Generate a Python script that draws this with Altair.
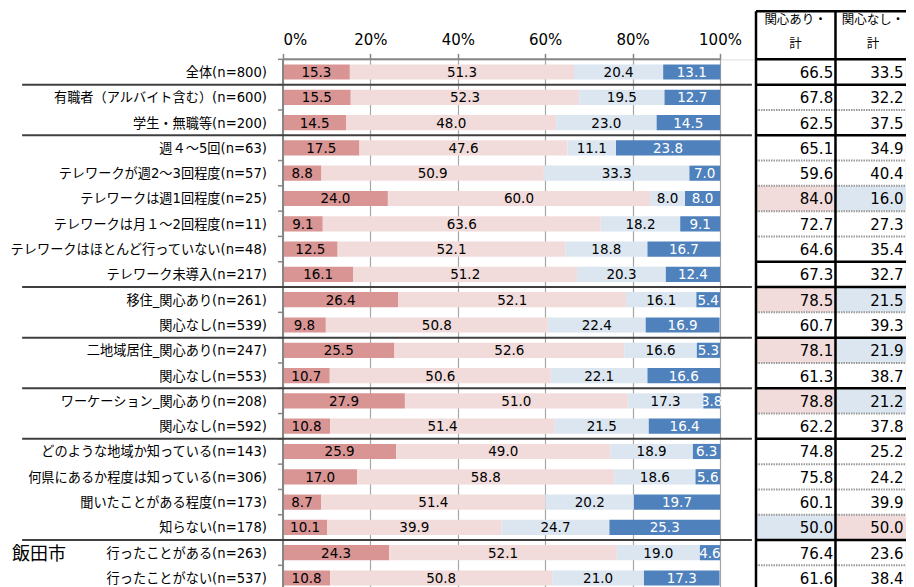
import altair as alt
import pandas as pd

labels = ["全体(n=800)", "有職者（アルバイト含む）(n=600)", "学生・無職等(n=200)",
          "週４～5回(n=63)", "テレワークが週2～3回程度(n=57)", "テレワークは週1回程度(n=25)",
          "テレワークは月１～2回程度(n=11)", "テレワークはほとんど行っていない(n=48)",
          "テレワーク未導入(n=217)", "移住_関心あり(n=261)", "関心なし(n=539)",
          "二地域居住_関心あり(n=247)", "関心なし(n=553)", "ワーケーション_関心あり(n=208)",
          "関心なし(n=592)", "どのような地域か知っている(n=143)", "何県にあるか程度は知っている(n=306)",
          "聞いたことがある程度(n=173)", "知らない(n=178)", "行ったことがある(n=263)",
          "行ったことがない(n=537)"]
seg1 = [15.3, 15.5, 14.5, 17.5, 8.8, 24.0, 9.1, 12.5, 16.1, 26.4, 9.8, 25.5, 10.7, 27.9, 10.8, 25.9, 17.0, 8.7, 10.1, 24.3, 10.8]
seg2 = [51.3, 52.3, 48.0, 47.6, 50.9, 60.0, 63.6, 52.1, 51.2, 52.1, 50.8, 52.6, 50.6, 51.0, 51.4, 49.0, 58.8, 51.4, 39.9, 52.1, 50.8]
seg3 = [20.4, 19.5, 23.0, 11.1, 33.3, 8.0, 18.2, 18.8, 20.3, 16.1, 22.4, 16.6, 22.1, 17.3, 21.5, 18.9, 18.6, 20.2, 24.7, 19.0, 21.0]
seg4 = [13.1, 12.7, 14.5, 23.8, 7.0, 8.0, 9.1, 16.7, 12.4, 5.4, 16.9, 5.3, 16.6, 3.8, 16.4, 6.3, 5.6, 19.7, 25.3, 4.6, 17.3]
total_yes = [66.5, 67.8, 62.5, 65.1, 59.6, 84.0, 72.7, 64.6, 67.3, 78.5, 60.7, 78.1, 61.3, 78.8, 62.2, 74.8, 75.8, 60.1, 50.0, 76.4, 61.6]
total_no = [33.5, 32.2, 37.5, 34.9, 40.4, 16.0, 27.3, 35.4, 32.7, 21.5, 39.3, 21.9, 38.7, 21.2, 37.8, 25.2, 24.2, 39.9, 50.0, 23.6, 38.4]
# highlight of table cells: 'h' = high (pink), 'l' = low (blue), '' = none
hl_yes = ["", "", "", "", "", "h", "", "", "", "h", "", "h", "", "h", "", "", "", "", "l", "", ""]
hl_no = ["", "", "", "", "", "l", "", "", "", "l", "", "l", "", "l", "", "", "", "", "h", "", ""]
group_breaks = [1, 3, 9, 11, 13, 15, 19]
table_solid = [0, 1, 3, 8, 9, 11, 13, 15, 19]
header = ["関心あり・", "計", "関心なし・", "計"]
side_label = "飯田市"
tick_vals = [0, 20, 40, 60, 80, 100]

seg_colors = ["#D99594", "#F2DCDB", "#DCE6F1", "#4F81BD"]
txt_colors = ["#000000", "#000000", "#000000", "#FFFFFF"]
hl_color = {"h": "#F2DCDB", "l": "#DCE6F1"}

N = len(labels)
FONT = "DejaVu Sans, Noto Sans CJK JP"
PX = 4.37  # pixels per percent unit
XMAX = 142.5
W = XMAX * PX
STEP = 25.3
H = N * STEP

# layout positions in x-data units (table to the right of the bars)
T_LEFT, T_MID, T_RIGHT = 108.24, 126.43, 146.0
C1_TXT, C2_TXT = 125.9, 142.0
C1_HEAD, C2_HEAD = 117.3, 135.0
SEP_START, SEP_END = -59.7, 107.3

rows = []
for i in range(N):
    start = 0.0
    for k, vals in enumerate([seg1, seg2, seg3, seg4]):
        v = vals[i]
        rows.append({"row": i, "seg": k, "x0": start, "x1": start + v,
                     "mid": start + v / 2, "val": f"{v:.1f}",
                     "y0": i + 0.2, "y1": i + 0.8, "yc": i + 0.5,
                     "fill": seg_colors[k], "tc": txt_colors[k]})
        start += v
bars_df = pd.DataFrame(rows)

lab_df = pd.DataFrame({"label": labels, "yc": [i + 0.5 for i in range(N)]})

xs = alt.Scale(domain=[0, XMAX], nice=False, zero=False)
ys = alt.Scale(domain=[0, N], reverse=True, nice=False, zero=False)

base_x_axis = alt.Axis(orient="top", values=tick_vals, labelExpr="datum.value + '%'",
                       grid=True, gridColor="#A6A6A6", gridWidth=1.2, domain=False,
                       ticks=True, tickColor="#868686", tickSize=6, tickWidth=1.5,
                       labelFont=FONT, labelFontSize=15, labelColor="#000000",
                       labelPadding=6, title=None)

bars = alt.Chart(bars_df).mark_rect().encode(
    x=alt.X("x0:Q", scale=xs, axis=base_x_axis),
    x2="x1:Q",
    y=alt.Y("y0:Q", scale=ys, axis=None),
    y2="y1:Q",
    fill=alt.Fill("fill:N", scale=None),
)

bar_text = alt.Chart(bars_df).mark_text(font=FONT, fontSize=13.5, baseline="middle", dy=1).encode(
    x=alt.X("mid:Q", scale=xs),
    y=alt.Y("yc:Q", scale=ys),
    text="val:N",
    color=alt.Color("tc:N", scale=None),
)

row_labels = alt.Chart(lab_df).mark_text(font=FONT, fontSize=13.2, align="right",
                                         baseline="middle", color="#000000", dy=1).encode(
    x=alt.value(-16),
    y=alt.Y("yc:Q", scale=ys),
    text="label:N",
)

side_df = pd.DataFrame({"t": [side_label], "yc": [19.5]})
side = alt.Chart(side_df).mark_text(font=FONT, fontSize=18, align="left", baseline="middle",
                                    color="#000000", dy=2).encode(
    x=alt.value(-271),
    y=alt.Y("yc:Q", scale=ys),
    text="t:N",
)

# axis lines
axis_df = pd.DataFrame({"x0": [0], "x1": [100], "y0": [0], "y1": [N]})
top_line = alt.Chart(axis_df).mark_rule(color="#868686", strokeWidth=2).encode(
    x=alt.X("x0:Q", scale=xs), x2="x1:Q", y=alt.Y("y0:Q", scale=ys))
left_line = alt.Chart(axis_df).mark_rule(color="#868686", strokeWidth=2).encode(
    x=alt.X("x0:Q", scale=xs), y=alt.Y("y0:Q", scale=ys), y2="y1:Q")

bnd_df = pd.DataFrame({"b": list(range(N + 1))})
yticks = alt.Chart(bnd_df).mark_rule(color="#868686", strokeWidth=1.5).encode(
    x=alt.value(-5), x2=alt.value(0), y=alt.Y("b:Q", scale=ys))

sep_df = pd.DataFrame({"b": group_breaks, "xs": [SEP_START] * len(group_breaks),
                       "xe": [SEP_END] * len(group_breaks)})
seps = alt.Chart(sep_df).mark_rule(color="#404040", strokeWidth=2).encode(
    x=alt.X("xs:Q", scale=xs), x2="xe:Q", y=alt.Y("b:Q", scale=ys))

# table
cells = []
for i in range(N):
    if hl_yes[i]:
        cells.append({"x0": T_LEFT, "x1": T_MID, "y0": i, "y1": i + 1, "fill": hl_color[hl_yes[i]]})
    if hl_no[i]:
        cells.append({"x0": T_MID, "x1": T_RIGHT, "y0": i, "y1": i + 1, "fill": hl_color[hl_no[i]]})
cells_df = pd.DataFrame(cells)
cell_rects = alt.Chart(cells_df).mark_rect().encode(
    x=alt.X("x0:Q", scale=xs), x2="x1:Q",
    y=alt.Y("y0:Q", scale=ys), y2="y1:Q",
    fill=alt.Fill("fill:N", scale=None))

tv = []
for i in range(N):
    tv.append({"x": C1_TXT, "yc": i + 0.5, "t": f"{total_yes[i]:.1f}"})
    tv.append({"x": C2_TXT, "yc": i + 0.5, "t": f"{total_no[i]:.1f}"})
tv_df = pd.DataFrame(tv)
table_text = alt.Chart(tv_df).mark_text(font=FONT, fontSize=15, align="right", baseline="middle",
                                        color="#000000", dy=1).encode(
    x=alt.X("x:Q", scale=xs), y=alt.Y("yc:Q", scale=ys), text="t:N")

hd_df = pd.DataFrame({"x": [C1_HEAD, C1_HEAD, C2_HEAD, C2_HEAD],
                      "y": [-1.55, -0.62, -1.55, -0.62], "t": header})
head_text = alt.Chart(hd_df).mark_text(font=FONT, fontSize=12.5, align="center", baseline="middle",
                                       color="#000000").encode(
    x=alt.X("x:Q", scale=xs), y=alt.Y("y:Q", scale=ys), text="t:N")

hl_df = pd.DataFrame({"b": [b for b in range(N + 1)]})
hl_df["solid"] = hl_df["b"].isin(table_solid)
hl_df["x0"] = T_LEFT
hl_df["x1"] = T_RIGHT
solid_lines = alt.Chart(hl_df[hl_df["solid"]]).mark_rule(color="#000000", strokeWidth=2.5).encode(
    x=alt.X("x0:Q", scale=xs), x2="x1:Q", y=alt.Y("b:Q", scale=ys))
dot_lines = alt.Chart(hl_df[~hl_df["solid"]]).mark_rule(color="#9A9A9A", strokeWidth=2,
                                                        strokeDash=[1.5, 1]).encode(
    x=alt.X("x0:Q", scale=xs), x2="x1:Q", y=alt.Y("b:Q", scale=ys))
head_top_df = pd.DataFrame({"x0": [T_LEFT], "x1": [T_RIGHT], "y": [-1.9]})
head_top = alt.Chart(head_top_df).mark_rule(color="#000000", strokeWidth=2.5).encode(
    x=alt.X("x0:Q", scale=xs), x2="x1:Q", y=alt.Y("y:Q", scale=ys))
vl_df = pd.DataFrame({"x": [T_LEFT, T_MID, T_RIGHT], "y0": [-1.9] * 3, "y1": [N] * 3})
vlines = alt.Chart(vl_df).mark_rule(color="#000000", strokeWidth=2.5).encode(
    x=alt.X("x:Q", scale=xs), y=alt.Y("y0:Q", scale=ys), y2="y1:Q")

chart = alt.layer(
    bars, bar_text, top_line, left_line, yticks, seps, row_labels, side,
    cell_rects, dot_lines, solid_lines, head_top, vlines, table_text, head_text,
).properties(
    width=W, height=H,
    autosize=alt.AutoSizeParams(type="none"),
    padding={"left": 275, "top": 51.35, "right": 0, "bottom": 0},
).configure_view(stroke=None).configure(background="#FFFFFF")

chart.save("out.html", embed_options={"renderer": "svg", "actions": False})
